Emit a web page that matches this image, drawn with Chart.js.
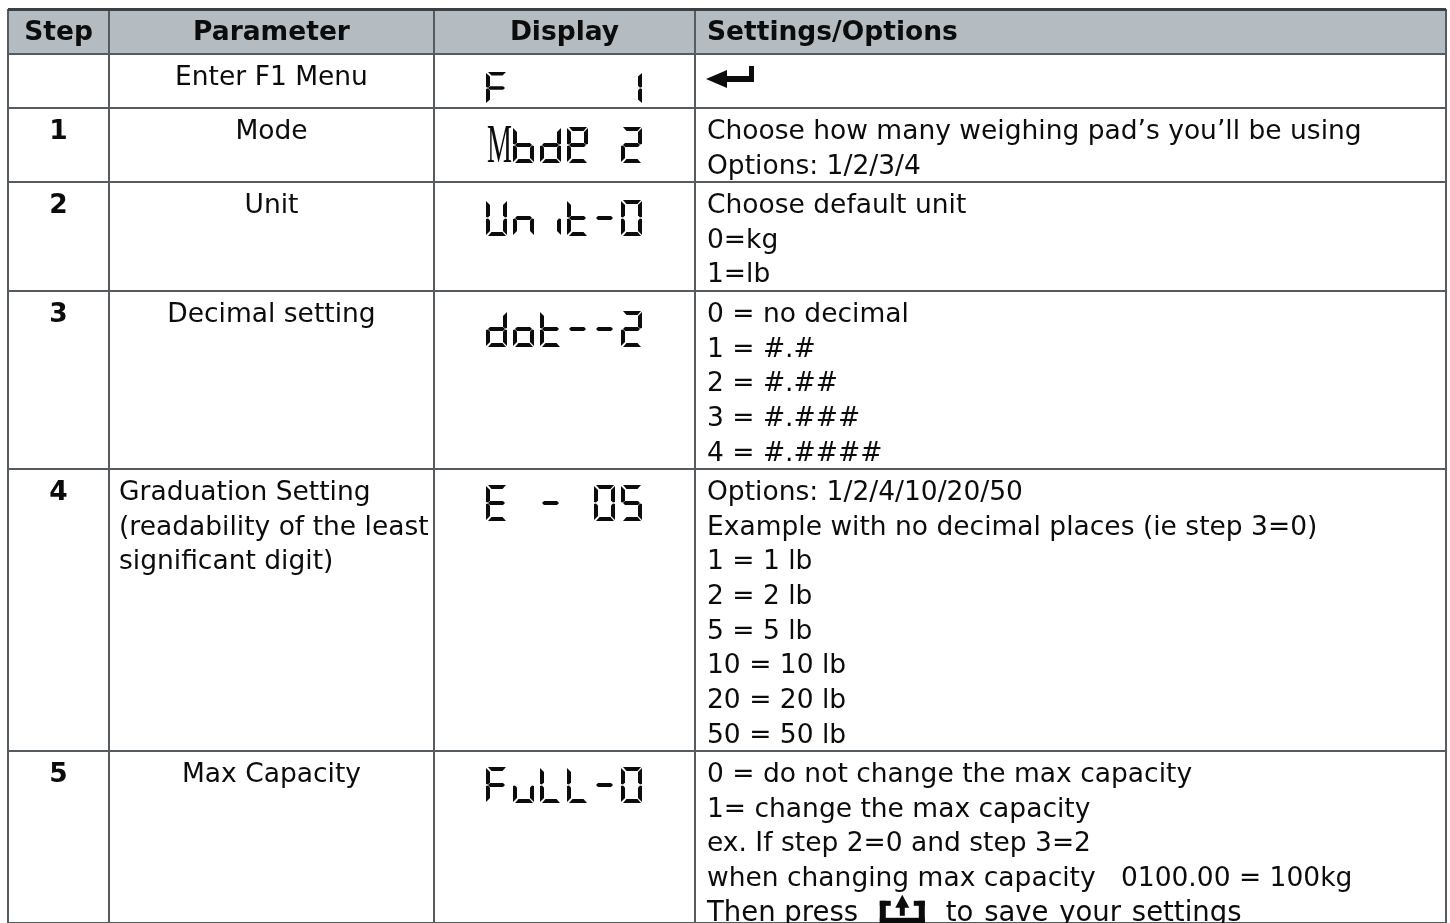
<!DOCTYPE html>
<html lang="en">

<head>
    <meta charset="utf-8">
    <title>F1 Menu settings</title>
    <script src="https://cdn.jsdelivr.net/npm/chart.js@4/dist/chart.umd.min.js"></script>
    <style>
        html, body { margin: 0; padding: 0; background: #fff; overflow: hidden; }
        canvas { display: block; }
    </style>
</head>

<body>
<canvas id="myChart" width="1450" height="923"></canvas>

<script>
    // table content
    const headers = ["Step", "Parameter", "Display", "Settings/Options"];
    const steps = ["", "1", "2", "3", "4", "5"];
    const parameters = [
        ["Enter F1 Menu"],
        ["Mode"],
        ["Unit"],
        ["Decimal setting"],
        ["Graduation Setting", "(readability of the least", "significant digit)"],
        ["Max Capacity"]
    ];
    const displays = ["F    1", "Mode 2", "Unit-0", "dot--2", "E - 05", "FuLL-0"];
    const settings = [
        ["{enter}"],
        ["Choose how many weighing pad\u2019s you\u2019ll be using", "Options: 1/2/3/4"],
        ["Choose default unit", "0=kg", "1=lb"],
        ["0 = no decimal", "1 = #.#", "2 = #.##", "3 = #.###", "4 = #.####"],
        ["Options: 1/2/4/10/20/50", "Example with no decimal places (ie step 3=0)", "1 = 1 lb", "2 = 2 lb",
            "5 = 5 lb", "10 = 10 lb", "20 = 20 lb", "50 = 50 lb"],
        ["0 = do not change the max capacity", "1= change the max capacity", "ex. If step 2=0 and step 3=2",
            "when changing max capacity   0100.00 = 100kg", "Then press {save} to save your settings"]
    ];

    // grid lines, these are the ticks of the two axes
    const columnEdges = [8, 109, 434, 695, 1446];
    const rowEdges = [9, 54, 108, 182, 291, 469, 751, 923];
    const displayTops = [18, 19, 18, 20, 16, 16];

    const lineColor = "#555b5f";
    const headerColor = "#b4bcc2";
    const textColor = "#0c0c0c";
    const textFont = '26.5px "DejaVu Sans"';
    const boldFont = 'bold 26.5px "DejaVu Sans"';
    const saveLineFont = '27.5px "DejaVu Sans"';
    const linePitch = 34.7;

    // seven segment shapes, in a 21 x 36 cell
    const segments = {
        a: [[2, 0], [20, 0], [16.5, 4], [5.5, 4]],
        b: [[21, 1], [21, 17], [19, 17.6], [17, 15.5], [17, 5]],
        c: [[21, 19], [21, 35], [17, 31], [17, 20.5], [19, 18.4]],
        d: [[5.5, 32], [16.5, 32], [20, 36], [2, 36]],
        e: [[0, 19], [2, 18.4], [4, 20.5], [4, 31], [0, 35]],
        f: [[0, 1], [4, 5], [4, 15.5], [2, 17.6], [0, 17]],
        g: [[4, 16], [17, 16], [19, 18], [17, 20], [4, 20], [2, 18]]
    };
    const glyphs = {
        "F": "aefg", "1": "bc", "2": "abdeg", "o": "cdefg", "d": "bcdeg", "e": "abdefg",
        "U": "bcdef", "n": "ceg", "i": "c", "t": "defg", "-": "g", "0": "abcdef", "o2": "cdeg",
        "E": "adefg", "5": "acdfg", "u": "cde", "L": "def"
    };

    let rowLines = (list, row, col, font, align, offset, dx) => list.map((text, i) => ({
        x: align === "left" ? columnEdges[col] + dx : (columnEdges[col] + columnEdges[col + 1]) / 2,
        y: rowEdges[row] + offset + i * linePitch,
        text: text, font: font, align: align
    }));

    let headerPoints = headers.map((text, i) => ({
        x: i === 3 ? columnEdges[i] + 12 : (columnEdges[i] + columnEdges[i + 1]) / 2,
        y: rowEdges[0] + 24,
        text: text, font: boldFont, align: i === 3 ? "left" : "center"
    }));
    let stepPoints = steps.flatMap((s, i) => rowLines([s], i + 1, 0, boldFont, "center", 24, 0));
    let parameterPoints = parameters.flatMap((list, i) =>
        rowLines(list, i + 1, 1, textFont, list.length > 1 ? "left" : "center", 24, 10));
    let settingPoints = settings.flatMap((list, i) => rowLines(list, i + 1, 3, textFont, "left", 24, 12));
    let displayPoints = displays.map((text, i) => ({
        x: columnEdges[2] + 52,
        y: rowEdges[i + 1] + displayTops[i],
        text: text
    }));

    let drawSegments = (ctx, name, x, y, h) => {
        let k = h / 36;
        for (let s of name) {
            ctx.beginPath();
            segments[s].forEach((p, i) => {
                if (i === 0) ctx.moveTo(x + p[0], y + p[1] * k);
                else ctx.lineTo(x + p[0], y + p[1] * k);
            });
            ctx.closePath();
            ctx.fill();
        }
    };

    let drawDisplay = (ctx, point) => {
        let h = point.text.startsWith("F ") ? 32 : 36;
        [...point.text].forEach((ch, i) => {
            let x = point.x + i * 27;
            if (ch === " ") return;
            if (ch === "M") {
                // the M of this display is a plain serif letter, squeezed
                ctx.save();
                ctx.translate(x + 1, point.y + 35);
                ctx.scale(0.52, 1);
                ctx.font = '54px "Liberation Serif"';
                ctx.textAlign = "left";
                ctx.textBaseline = "alphabetic";
                ctx.fillText("M", 0, 0);
                ctx.restore();
                return;
            }
            let key = ch;
            if (ch === "o" && point.text === "dot--2") key = "o2";
            drawSegments(ctx, glyphs[key], x, point.y, h);
        });
    };

    let drawEnter = (ctx, x, y) => {
        ctx.beginPath();
        ctx.moveTo(x, y + 1);
        ctx.lineTo(x + 21, y - 8);
        ctx.lineTo(x + 21, y - 2);
        ctx.lineTo(x + 43, y - 2);
        ctx.lineTo(x + 43, y - 12);
        ctx.lineTo(x + 48, y - 12);
        ctx.lineTo(x + 48, y + 4);
        ctx.lineTo(x + 21, y + 4);
        ctx.lineTo(x + 21, y + 10);
        ctx.closePath();
        ctx.fill();
    };

    let drawSave = (ctx, x, y) => {
        ctx.fillRect(x, y - 13, 11, 5);
        ctx.fillRect(x, y - 13, 6, 23);
        ctx.fillRect(x + 34, y - 13, 11, 5);
        ctx.fillRect(x + 39, y - 13, 6, 23);
        ctx.fillRect(x, y + 4, 45, 6);
        ctx.fillRect(x + 20, y - 7, 5, 9);
        ctx.beginPath();
        ctx.moveTo(x + 22.5, y - 19);
        ctx.lineTo(x + 29.5, y - 6);
        ctx.lineTo(x + 15.5, y - 6);
        ctx.closePath();
        ctx.fill();
    };

    let drawText = (ctx, point) => {
        let parts = point.text.split("{save}");
        ctx.font = parts.length > 1 ? saveLineFont : point.font;
        ctx.textAlign = point.align;
        ctx.textBaseline = "middle";
        if (point.text === "{enter}") {
            drawEnter(ctx, point.x - 1, point.y);
            return;
        }
        ctx.fillText(parts[0], point.x, point.y);
        if (parts.length > 1) {
            let x = point.x + ctx.measureText(parts[0]).width;
            drawSave(ctx, x + 13, point.y);
            ctx.wordSpacing = "2px";
            ctx.fillText(parts[1].trim(), x + 79, point.y);
            ctx.wordSpacing = "0px";
        }
    };

    // paints header band under the grid, then all cell contents over it
    const tablePlugin = {
        id: "tablePlugin",
        beforeDraw(chart) {
            let x = chart.scales.x, y = chart.scales.y;
            chart.ctx.fillStyle = headerColor;
            chart.ctx.fillRect(x.left, y.getPixelForValue(rowEdges[0]), x.width,
                y.getPixelForValue(rowEdges[1]) - y.getPixelForValue(rowEdges[0]));
        },
        afterDatasetsDraw(chart) {
            let ctx = chart.ctx;
            ctx.save();
            ctx.fillStyle = textColor;
            chart.data.datasets.forEach((ds, i) => {
                chart.getDatasetMeta(i).data.forEach((el, j) => {
                    let point = Object.assign({}, ds.data[j], { x: el.x, y: el.y });
                    if (ds.label === "Display") drawDisplay(ctx, point);
                    else drawText(ctx, point);
                });
            });
            ctx.restore();
        }
    };

    let edgeAxis = (edges, extra) => Object.assign({
        type: "linear",
        min: edges[0],
        max: edges[edges.length - 1],
        afterBuildTicks: axis => { axis.ticks = edges.map(v => ({ value: v })); },
        grid: { color: lineColor, lineWidth: 2, drawTicks: false },
        border: { display: false },
        ticks: { display: false }
    }, extra);

    new Chart(document.getElementById("myChart"), {
        type: "scatter",
        data: {
            datasets: [
                { label: "Header", data: headerPoints, pointRadius: 0 },
                { label: "Step", data: stepPoints, pointRadius: 0 },
                { label: "Parameter", data: parameterPoints, pointRadius: 0 },
                { label: "Display", data: displayPoints, pointRadius: 0 },
                { label: "Settings", data: settingPoints, pointRadius: 0 }
            ]
        },
        options: {
            responsive: false,
            animation: false,
            layout: { padding: { left: columnEdges[0], top: rowEdges[0], right: 1450 - columnEdges[4], bottom: 0 } },
            plugins: { legend: { display: false }, tooltip: { enabled: false } },
            scales: {
                x: edgeAxis(columnEdges),
                y: edgeAxis(rowEdges, {
                    reverse: true,
                    grid: {
                        color: c => c.index === 0 ? "#3c4043" : lineColor,
                        lineWidth: c => c.index === 0 ? 3 : 2,
                        drawTicks: false
                    }
                })
            }
        },
        plugins: [tablePlugin]
    });
</script>

</body>

</html>
